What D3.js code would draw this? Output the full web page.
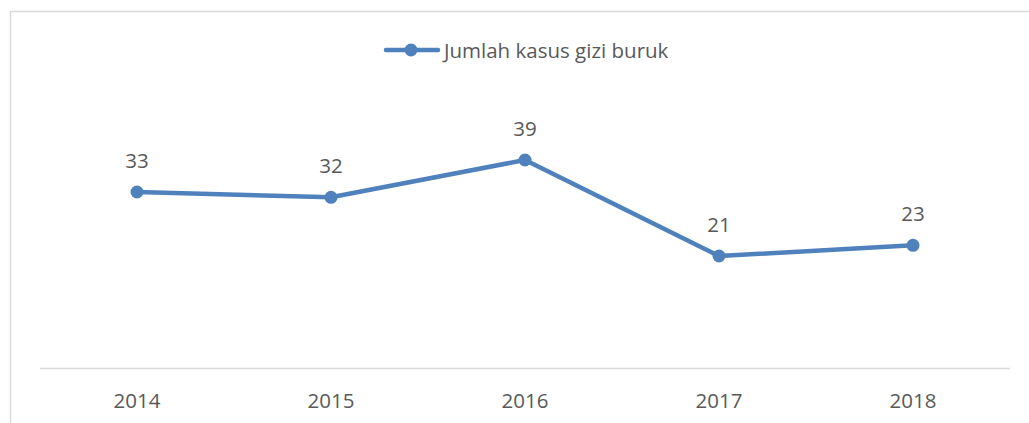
<!DOCTYPE html>
<html><head><meta charset="utf-8">
<script src="https://cdn.jsdelivr.net/npm/d3@7"></script>
<style>body{margin:0;background:#fff}svg{display:block}text{font-family:"Open Sans",sans-serif;fill:#595959}</style>
</head><body>
<svg id="c" width="1029" height="423"></svg>
<script>
const categories = ["2014","2015","2016","2017","2018"];
const values = [33, 32, 39, 21, 23];
const seriesName = "Jumlah kasus gizi buruk";

const svg = d3.select("#c");
const color = "#4f81bd";
// outer border
svg.append("rect").attr("x",10.5).attr("y",11.5).attr("width",1040).attr("height",430)
  .attr("fill","none").attr("stroke","#d9d9d9").attr("stroke-width",1.5);

const x = d3.scaleBand().domain(categories).range([40,1010]);
const y = d3.scaleLinear().domain([0,45]).range([368,128]);

svg.append("line").attr("x1",40).attr("x2",1010).attr("y1",368.5).attr("y2",368.5)
  .attr("stroke","#d9d9d9").attr("stroke-width",1.5);

const xAxis = d3.axisBottom(x).tickSize(0).tickPadding(0);
const gx = svg.append("g").attr("transform","translate(0,368)").call(xAxis);
gx.select(".domain").remove();
gx.selectAll("text").attr("dy",null).attr("y",40).style("font-size","20.5px").style("font-family","'Open Sans',sans-serif").attr("fill","#595959");

const cx = d => x(d) + x.bandwidth()/2;
const line = d3.line().x((d,i)=>cx(categories[i])).y(d=>y(d));
svg.append("path").datum(values).attr("d",line).attr("fill","none")
  .attr("stroke",color).attr("stroke-width",4.5).attr("stroke-linejoin","round").attr("stroke-linecap","round");
svg.selectAll("circle.pt").data(values).join("circle").attr("class","pt")
  .attr("cx",(d,i)=>cx(categories[i])).attr("cy",d=>y(d)).attr("r",6.5).attr("fill",color);
svg.selectAll("text.lbl").data(values).join("text").attr("class","lbl")
  .attr("x",(d,i)=>cx(categories[i])).attr("y",d=>y(d)-24).attr("text-anchor","middle")
  .style("font-size","20.5px").text(d=>d);

// legend
const lg = svg.append("g").attr("transform","translate(0,50)");
lg.append("line").attr("x1",386).attr("x2",438).attr("y1",0).attr("y2",0)
  .attr("stroke",color).attr("stroke-width",4.5).attr("stroke-linecap","round");
lg.append("circle").attr("cx",411).attr("cy",0).attr("r",6.5).attr("fill",color);
lg.append("text").attr("x",444).attr("y",7.5).style("font-size","20.5px").text(seriesName);
</script>
</body></html>
